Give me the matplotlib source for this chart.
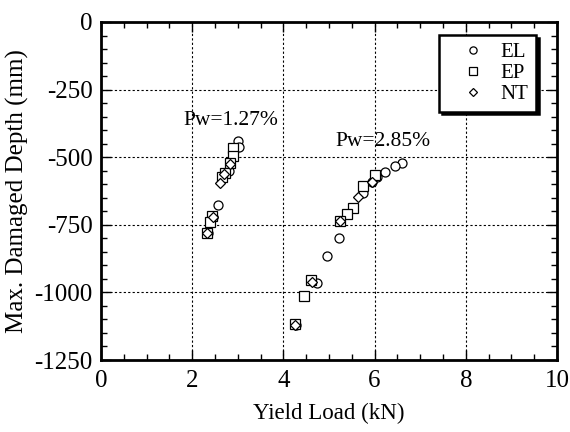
import matplotlib
matplotlib.use("Agg")
import matplotlib.pyplot as plt
from matplotlib.ticker import MultipleLocator

plt.rcParams['font.family'] = ['Liberation Serif', 'DejaVu Serif']
plt.rcParams['axes.unicode_minus'] = False

# Pw = 1.27 %
el_127_x = [3.00, 3.02, 2.80, 2.57, 2.46, 2.34]
el_127_y = [-440, -462, -550, -675, -722, -782]
ep_127_x = [2.90, 2.90, 2.82, 2.73, 2.66, 2.44, 2.40, 2.33]
ep_127_y = [-465, -495, -522, -558, -575, -718, -738, -782]
nt_127_x = [2.83, 2.70, 2.62, 2.45, 2.33]
nt_127_y = [-525, -562, -597, -722, -782]

# Pw = 2.85 %
el_285_x = [6.61, 6.45, 6.22, 6.05, 5.94, 5.74, 5.23, 4.95, 4.74, 4.27]
el_285_y = [-520, -533, -555, -572, -590, -634, -800, -865, -966, -1120]
ep_285_x = [6.01, 5.75, 5.52, 5.39, 5.24, 4.60, 4.45, 4.25]
ep_285_y = [-566, -607, -689, -710, -736, -954, -1013, -1117]
nt_285_x = [5.95, 5.64, 5.24, 4.62, 4.26]
nt_285_y = [-590, -648, -736, -960, -1122]

series_labels = ["EL", "EP", "NT"]
annotations = [("Pw=1.27%", 2.85, -366), ("Pw=2.85%", 6.18, -443)]

fig = plt.figure(figsize=(5.7, 4.32), dpi=100)
ax = fig.add_axes([101/570, 1 - 360/432, (557-101)/570, (360-22)/432])

mk = dict(linestyle='none', markerfacecolor='white', markeredgecolor='black',
          markeredgewidth=0.9)
ax.plot(el_127_x, el_127_y, marker='o', markersize=6.5, label=series_labels[0], **mk)
ax.plot(el_285_x, el_285_y, marker='o', markersize=6.5, **mk)
ax.plot(ep_127_x, ep_127_y, marker='s', markersize=6.5, label=series_labels[1], **mk)
ax.plot(ep_285_x, ep_285_y, marker='s', markersize=6.5, **mk)
ax.plot(nt_127_x, nt_127_y, marker='D', markersize=5, label=series_labels[2], **mk)
ax.plot(nt_285_x, nt_285_y, marker='D', markersize=5, **mk)

for txt, x, y in annotations:
    ax.text(x, y, txt, ha='center', va='center', fontsize=15.5)

ax.set_xlim(0, 10)
ax.set_ylim(-1250, 0)
ax.xaxis.set_major_locator(MultipleLocator(2))
ax.xaxis.set_minor_locator(MultipleLocator(0.5))
ax.yaxis.set_major_locator(MultipleLocator(250))
ax.yaxis.set_minor_locator(MultipleLocator(50))
ax.grid(True, which='major', linestyle=(0, (2, 2)), color='black', linewidth=0.8)
ax.set_axisbelow(True)

ax.tick_params(which='both', direction='in', top=True, right=True, labelsize=18,
               width=1.0)
ax.tick_params(which='major', length=7)
ax.tick_params(which='minor', length=4)
ax.tick_params(axis='x', pad=7)
ax.tick_params(axis='y', pad=6)
for s in ax.spines.values():
    s.set_linewidth(2)

ax.set_xlabel("Yield Load (kN)", fontsize=16.5, labelpad=8)
ax.set_ylabel("Max. Damaged Depth (mm)", fontsize=18, labelpad=4)

leg = ax.legend(loc='upper right', fontsize=15, frameon=True, fancybox=False,
                shadow={'color': 'black', 'alpha': 1}, edgecolor='black',
                markerscale=0.8, handlelength=2.5, handletextpad=0.1,
                borderpad=0.35, labelspacing=0.08, borderaxespad=0,
                bbox_to_anchor=((536-101)/456, (360-35)/338))
leg.get_frame().set_linewidth(1.8)

fig.savefig("out.png", dpi=100)
